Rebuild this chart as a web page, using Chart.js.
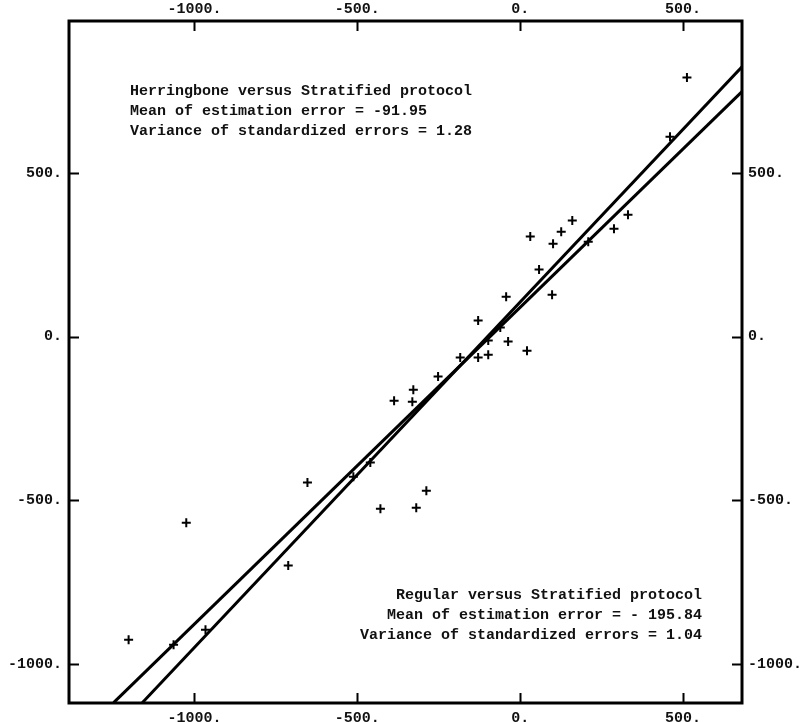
<!DOCTYPE html>
<html>
<head>
<meta charset="utf-8">
<script src="https://cdn.jsdelivr.net/npm/chart.js@4.4.1/dist/chart.umd.min.js"></script>
<style>
  html, body { margin: 0; padding: 0; background: #fff; }
  #wrap { width: 807px; height: 722px; position: relative; }
</style>
</head>
<body>
<div id="wrap"><canvas id="errChart"></canvas></div>
<script>
// ==========================
// DONNÉES
// ==========================
const errX = [512, 460, 331, 288, 160, 126, 31, 101, 209, 58, 98, -43, -129, -61, -98, -37, 21,
  -129, -98, -184, -252, -328, -387, -331, -460, -288, -429, -319, -512, -653, -1025, -712,
  -1202, -1064, -966];
const errY = [792, 611, 373, 330, 355, 321, 306, 284, 290, 205, 128, 122, 49, 28, -12, -15, -43,
  -64, -55, -64, -122, -162, -196, -199, -385, -471, -526, -523, -428, -446, -569, -700,
  -927, -942, -896];

// droites ajustées (extrémités au bord du cadre)
const fitAX = [-1160, 681];
const fitAY = [-1119, 825];
const fitBX = [-1248, 681];
const fitBY = [-1119, 749];

const xRange = [-1385, 681];
const yRange = [-1120, 965];
const xTicks = [-1000, -500, 0, 500];
const yTicks = [-1000, -500, 0, 500];

const noteTopLeft = [
  "Herringbone versus Stratified protocol",
  "Mean of estimation error = -91.95",
  "Variance of standardized errors = 1.28",
];
const noteBottomRight = [
  "Regular versus Stratified protocol",
  "Mean of estimation error = - 195.84",
  "Variance of standardized errors = 1.04",
];

const FONT = "bold 15px 'Liberation Mono', 'DejaVu Sans Mono', monospace";

function toPoints(xs, ys) {
  return xs.map((x, i) => ({ x, y: ys[i] }));
}

/* =======================================================
   CADRE + GRADUATIONS INTÉRIEURES + TEXTES
======================================================= */
const framePlugin = {
  id: "frame",
  afterDraw(chart) {
    const { ctx, chartArea: a, scales } = chart;
    ctx.save();
    ctx.strokeStyle = "#000";
    ctx.lineWidth = 3;
    ctx.strokeRect(a.left, a.top, a.right - a.left, a.bottom - a.top);

    ctx.lineWidth = 2;
    const len = 10;
    xTicks.forEach((v) => {
      const px = Math.round(scales.x.getPixelForValue(v)) + 0.5;
      ctx.beginPath();
      ctx.moveTo(px, a.bottom);
      ctx.lineTo(px, a.bottom - len);
      ctx.moveTo(px, a.top);
      ctx.lineTo(px, a.top + len);
      ctx.stroke();
    });
    yTicks.forEach((v) => {
      const py = Math.round(scales.y.getPixelForValue(v)) + 0.5;
      ctx.beginPath();
      ctx.moveTo(a.left, py);
      ctx.lineTo(a.left + len, py);
      ctx.moveTo(a.right, py);
      ctx.lineTo(a.right - len, py);
      ctx.stroke();
    });

    ctx.fillStyle = "#111";
    ctx.font = FONT;
    ctx.textBaseline = "middle";
    ctx.textAlign = "left";
    noteTopLeft.forEach((t, i) => ctx.fillText(t, a.left + 61, a.top + 70 + i * 20));
    ctx.textAlign = "right";
    noteBottomRight.forEach((t, i) =>
      ctx.fillText(t, a.right - 40, a.bottom - 108 + i * 20),
    );
    ctx.restore();
  },
};

function axis(position, range, ticks, size, padding) {
  return {
    type: "linear",
    position,
    display: true,
    min: range[0],
    max: range[1],
    grid: { display: false, drawTicks: false },
    border: { display: false },
    afterBuildTicks: (s) => {
      s.ticks = ticks.map((v) => ({ value: v }));
    },
    afterFit: (s) => {
      if (position === "top" || position === "bottom") s.height = size;
      else s.width = size;
    },
    ticks: {
      autoSkip: false,
      maxRotation: 0,
      padding,
      color: "#111",
      font: { family: "'Liberation Mono', monospace", size: 15, weight: "bold" },
      callback: (v) => `${v}.`,
    },
  };
}

const ctx = document.getElementById("errChart").getContext("2d");
new Chart(ctx, {
  type: "scatter",
  data: {
    datasets: [
      {
        label: "Erreurs",
        data: toPoints(errX, errY),
        pointStyle: "cross",
        pointRadius: 4.5,
        pointBorderWidth: 2,
        borderColor: "#000",
        backgroundColor: "#000",
        showLine: false,
      },
      {
        label: "Ajustement A",
        data: toPoints(fitAX, fitAY),
        showLine: true,
        borderColor: "#000",
        borderWidth: 3,
        pointRadius: 0,
      },
      {
        label: "Ajustement B",
        data: toPoints(fitBX, fitBY),
        showLine: true,
        borderColor: "#000",
        borderWidth: 3,
        pointRadius: 0,
      },
    ],
  },
  options: {
    responsive: true,
    maintainAspectRatio: false,
    animation: false,
    layout: { padding: 0 },
    plugins: { legend: { display: false }, tooltip: { enabled: false } },
    scales: {
      x: axis("bottom", xRange, xTicks, 19, 6),
      x2: axis("top", xRange, xTicks, 21, 3),
      y: axis("left", yRange, yTicks, 69, 7),
      y2: axis("right", yRange, yTicks, 65, 6),
    },
  },
  plugins: [framePlugin],
});
</script>
</body>
</html>
